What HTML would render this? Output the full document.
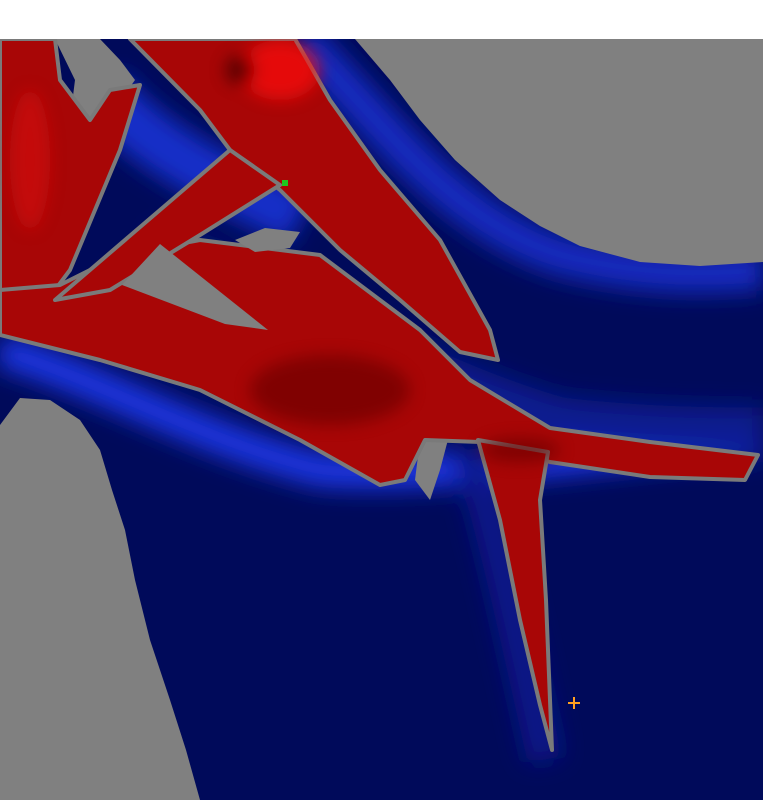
<!DOCTYPE html>
<html><head><meta charset="utf-8"><style>
html,body{margin:0;padding:0;background:#fff;width:763px;height:800px;overflow:hidden}
svg{display:block}
</style></head><body>
<svg width="763" height="800" viewBox="0 0 763 800">
<defs>
<filter id="b8" x="-20%" y="-20%" width="140%" height="140%"><feGaussianBlur stdDeviation="12"/></filter>
<filter id="b4" x="-20%" y="-20%" width="140%" height="140%"><feGaussianBlur stdDeviation="8"/></filter>
<clipPath id="cp"><rect x="0" y="39" width="763" height="761"/></clipPath>
</defs>
<rect x="0" y="0" width="763" height="39" fill="#fff"/>
<g clip-path="url(#cp)">
<rect x="0" y="39" width="763" height="761" fill="#000a5a"/>
<g filter="url(#b8)">
<path d="M0,350 C100,380 200,440 320,470 C450,480 600,450 763,440" stroke="#1a36e0" stroke-width="34" fill="none"/>
<path d="M300,39 C380,120 450,220 560,255 C640,275 700,275 763,270" stroke="#122cc0" stroke-width="40" fill="none"/>
<path d="M100,90 C150,150 220,180 300,220" stroke="#142ec8" stroke-width="55" fill="none"/>
<path d="M150,250 C300,300 420,380 560,420 C650,430 720,430 763,430" stroke="#081a90" stroke-width="45" fill="none"/>
<path d="M470,450 C500,550 520,650 545,760" stroke="#08178a" stroke-width="35" fill="none"/>
</g>
<g fill="#808080">
<polygon points="355,39 763,39 763,262 700,266 640,262 580,246 540,226 500,200 455,160 420,120 390,80"/>
<polygon points="0,425 20,398 50,400 80,420 100,450 112,490 125,530 135,580 150,640 170,700 186,750 200,800 0,800"/>
<polygon points="55,39 75,80 70,120 100,130 135,80 120,60 100,39"/>
<polygon points="420,440 450,432 440,470 430,500 415,480"/>
</g>
<g fill="#a80606" stroke="#7a7a7a" stroke-width="4" stroke-linejoin="round">
<polygon points="0,39 55,39 60,80 90,120 110,90 140,85 120,150 95,210 70,270 40,310 0,330"/>
<polygon points="130,39 295,39 330,100 380,170 440,240 490,330 498,360 460,352 400,300 340,250 280,190 230,150 200,110"/>
<polygon points="0,290 60,285 120,255 200,240 320,255 420,330 470,380 550,428 650,442 758,455 745,480 650,477 550,462 480,442 425,440 405,480 380,485 300,440 200,390 100,360 0,335"/>
<polygon points="478,440 548,452 540,500 546,600 552,750 540,705 520,620 500,520"/>
<polygon points="55,300 160,210 230,150 280,185 200,235 110,290"/>
</g>
<g fill="#808080">
<polygon points="122,285 160,244 268,330 225,324"/>
<polygon points="235,240 265,228 300,232 290,248 255,252"/>
</g>
<g filter="url(#b4)" opacity="0.7">
<ellipse cx="280" cy="70" rx="40" ry="30" fill="#ff1010"/>
<ellipse cx="30" cy="160" rx="20" ry="70" fill="#d01010"/>
<ellipse cx="240" cy="70" rx="15" ry="15" fill="#400000"/>
<ellipse cx="330" cy="390" rx="80" ry="35" fill="#700000"/>
<ellipse cx="520" cy="450" rx="40" ry="12" fill="#700000"/>
</g>
<rect x="282" y="180" width="6" height="6" fill="#1ec81e"/>
<g stroke="#ffa020" stroke-width="2">
<line x1="568" y1="703" x2="580" y2="703"/><line x1="574" y1="697" x2="574" y2="709"/>
</g>
</g>
</svg>
</body></html>
